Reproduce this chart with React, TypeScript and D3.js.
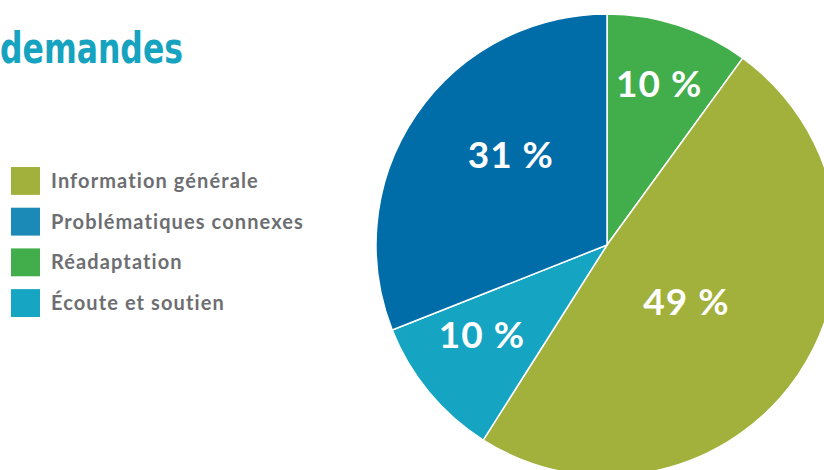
import React from "react";
import * as d3 from "d3";

const categories = ["Information générale", "Problématiques connexes", "Réadaptation", "Écoute et soutien"];
const legendColors = ["#a2b13b", "#1b8ab6", "#41ae4b", "#16a5c3"];

// Pie order (clockwise from 12 o'clock)
const pieCategories = ["Réadaptation", "Information générale", "Écoute et soutien", "Problématiques connexes"];
const pieValues = [10, 49, 10, 31];
const pieLabels = ["10 %", "49 %", "10 %", "31 %"];
const pieColors = ["#41ae4b", "#a1b13c", "#15a5c2", "#006da9"];
const labelRadius = [169, 98, 154, 132];
const labelAngleOffset = [0, 1.6, 3.9, 9];

const title = "demandes";

export default function App() {
  const W = 824, H = 470;
  const cx = 607, cy = 245, R = 231;
  const pie = d3.pie<number>().sort(null).value((d) => d)(pieValues);
  const arc = d3.arc<d3.PieArcDatum<number>>().innerRadius(0).outerRadius(R);
  const legendY = d3.scaleBand<string>().domain(categories).range([167, 317]).paddingInner(0.315);

  return (
    <svg width={W} height={H} style={{ position: "absolute", left: 0, top: 0, background: "#fff" }}>
      <text x={0} y={63} fill="#15a3c0" fontFamily="'DejaVu Sans Condensed', 'DejaVu Sans'" fontWeight="bold"
        fontSize={43} fontStretch="condensed" textLength={183} lengthAdjust="spacingAndGlyphs">{title}</text>
      {categories.map((c, i) => (
        <g key={c}>
          <rect x={11} y={legendY(c)!} width={29} height={legendY.bandwidth()} fill={legendColors[i]} />
          <text x={51} y={legendY(c)! + legendY.bandwidth() / 2 + 7} fill="#6d6e71" fontFamily="Lato"
            fontWeight="bold" fontSize={20} letterSpacing={1.1}>{c}</text>
        </g>
      ))}
      <g transform={`translate(${cx},${cy})`}>
        {pie.map((p, i) => (
          <path key={pieCategories[i]} d={arc(p)!} fill={pieColors[i]} stroke="#fff" strokeWidth={1.5} />
        ))}
        {pie.map((p, i) => {
          const a = (p.startAngle + p.endAngle) / 2 + (labelAngleOffset[i] * Math.PI) / 180;
          const x = Math.sin(a) * labelRadius[i];
          const y = -Math.cos(a) * labelRadius[i];
          return (
            <text key={"l" + i} x={x} y={y + 13} textAnchor="middle" fill="#fff" fontFamily="Lato"
              fontWeight="bold" fontSize={37} letterSpacing={1}>{pieLabels[i]}</text>
          );
        })}
      </g>
    </svg>
  );
}
